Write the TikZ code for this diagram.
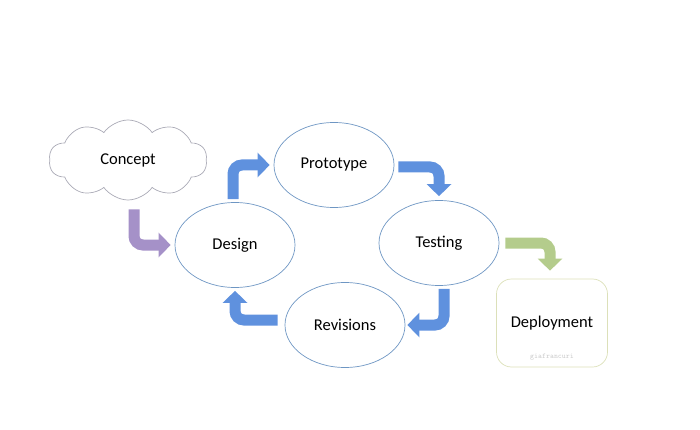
\documentclass[tikz,border=0pt]{standalone}
\usepackage{fontspec}
\setmainfont{Carlito}
\usetikzlibrary{shapes.geometric,shapes.symbols,arrows.meta}
\definecolor{bleu}{RGB}{95, 145, 222}
\definecolor{violet}{RGB}{165, 145, 200}
\definecolor{vertpale}{RGB}{180, 204, 140}
\definecolor{bord}{RGB}{110, 150, 195}
\definecolor{nuage}{RGB}{170, 170, 182}
\definecolor{cadre}{RGB}{220, 224, 185}

\begin{document}
\begin{tikzpicture}[x=1pt, y=1pt, font=\fontsize{16.5}{19}\selectfont,
    etape/.style={ellipse, draw=bord, line width=0.7pt, minimum width=120pt, minimum height=85pt},
    fleche/.style={line width=11pt, rounded corners=9pt, -{Triangle[width=24pt, length=12pt]}}]
                \useasboundingbox (0,0) rectangle (700,-430);

                % nuage de depart
                \node[cloud, cloud puffs=10, cloud puff arc=110, aspect=2, draw=nuage, line width=0.7pt, minimum width=158pt, minimum height=80pt] (concept) at (128,-160) {Concept};

                % cycle
                \node[etape] (prototype) at (334,-165) {Prototype};
                \node[etape] (design) at (235,-245) {Design};
                \node[etape] (testing) at (439,-243) {Testing};
                \node[etape] (revisions) at (345,-325) {Revisions};

                % resultat
                \node[draw=cadre, line width=0.7pt, rounded corners=15pt, minimum width=111pt, minimum height=88pt] (deployment) at (552,-323) {Deployment};
                \node[font=\ttfamily\fontsize{7.5}{8}\selectfont, text=gray!40] (signature) at (552,-357) {giafrancuri};

                % fleches du cycle
                \draw[fleche, violet, shorten <=9pt, shorten >=4pt] ([xshift=6pt]concept.south) |- (design.west);
                \draw[fleche, bleu, shorten <=3pt, shorten >=4pt] ([xshift=-2pt]design.north) |- (prototype.west);
                \draw[fleche, bleu, shorten <=4pt, shorten >=4pt] ([yshift=-2pt]prototype.east) -| (testing.north);
                \draw[fleche, bleu, shorten <=3pt, shorten >=2pt] ([xshift=5pt]testing.south) |- (revisions.east);
                \draw[fleche, bleu, shorten <=7pt, shorten >=3pt] ([yshift=5pt]revisions.west) -| (design.south);

                % vers le deploiement
                \draw[fleche, vertpale, shorten <=6pt, shorten >=8pt] (testing.east) -| ([xshift=-2pt]deployment.north);
\end{tikzpicture}
\end{document}
